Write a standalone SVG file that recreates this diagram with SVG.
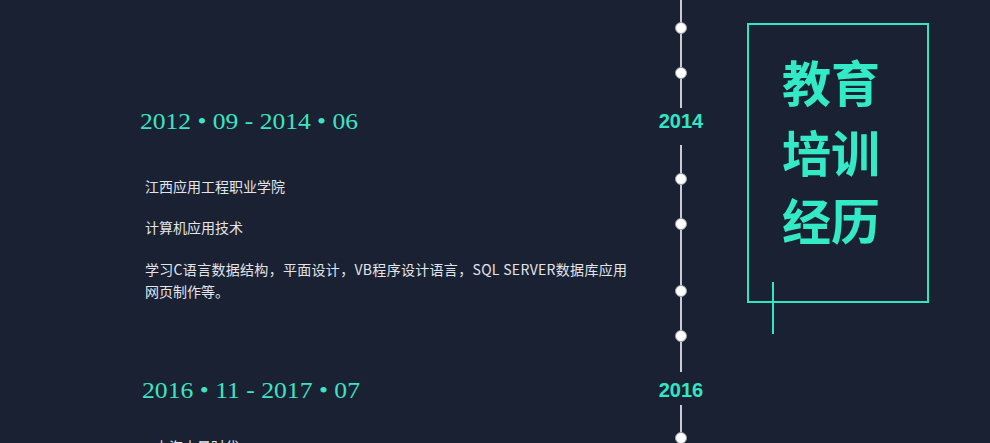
<svg xmlns="http://www.w3.org/2000/svg" width="990" height="443" viewBox="0 0 990 443">
<style>
.date{font-family:"Liberation Serif","Noto Serif CJK SC",serif;font-size:23px;fill:#3de3c3}
.body{font-family:"Noto Sans CJK SC","Liberation Sans",sans-serif;font-size:14px;fill:#e2e4ea}
.year{font-family:"Liberation Sans","Noto Sans CJK SC",sans-serif;font-size:20px;font-weight:bold;fill:#33e6c3;text-anchor:middle}
.title{font-family:"Noto Sans CJK SC",sans-serif;font-size:49px;font-weight:bold;fill:#33eac6}
.tl{stroke:#c9ccd3;stroke-width:2}
.dot{fill:#ffffff;stroke:#9aa0aa;stroke-width:1}
.box{fill:none;stroke:#2fe6c1;stroke-width:2}
</style>
<rect width="990" height="443" fill="#1a2132"/>
<g id="connectors">
<line class="tl" x1="681" y1="0" x2="681" y2="108"/>
<line class="tl" x1="681" y1="145" x2="681" y2="372"/>
<line class="tl" x1="681" y1="405" x2="681" y2="443"/>
</g>
<g id="dots">
<circle class="dot" cx="681" cy="28" r="5.5"/>
<circle class="dot" cx="681" cy="73" r="5.5"/>
<circle class="dot" cx="681" cy="179" r="5.5"/>
<circle class="dot" cx="681" cy="224" r="5.5"/>
<circle class="dot" cx="681" cy="291" r="5.5"/>
<circle class="dot" cx="681" cy="336" r="5.5"/>
<circle class="dot" cx="681" cy="438" r="5.5"/>
</g>
<g id="year2014"><text class="year" x="681" y="128">2014</text></g>
<g id="year2016"><text class="year" x="681" y="397">2016</text></g>
<g id="entry1">
<text class="date" x="140" y="129" textLength="218" lengthAdjust="spacingAndGlyphs">2012 • 09 - 2014 • 06</text>
<text class="body" x="145" y="192">江西应用工程职业学院</text>
<text class="body" x="145" y="233">计算机应用技术</text>
<text class="body" x="145" y="275" textLength="482" lengthAdjust="spacing">学习C语言数据结构，平面设计，VB程序设计语言，SQL SERVER数据库应用</text>
<text class="body" x="145" y="297">网页制作等。</text>
</g>
<g id="entry2">
<text class="date" x="142" y="398" textLength="218" lengthAdjust="spacingAndGlyphs">2016 • 11 - 2017 • 07</text>
<text class="body" x="155" y="452">上海山景时代</text>
</g>
<g id="title">
<rect class="box" x="748" y="24" width="180" height="278"/>
<line class="box" x1="773" y1="282" x2="773" y2="334"/>
<text class="title" x="782" y="102">教育</text>
<text class="title" x="782" y="172">培训</text>
<text class="title" x="782" y="240">经历</text>
</g>
</svg>
